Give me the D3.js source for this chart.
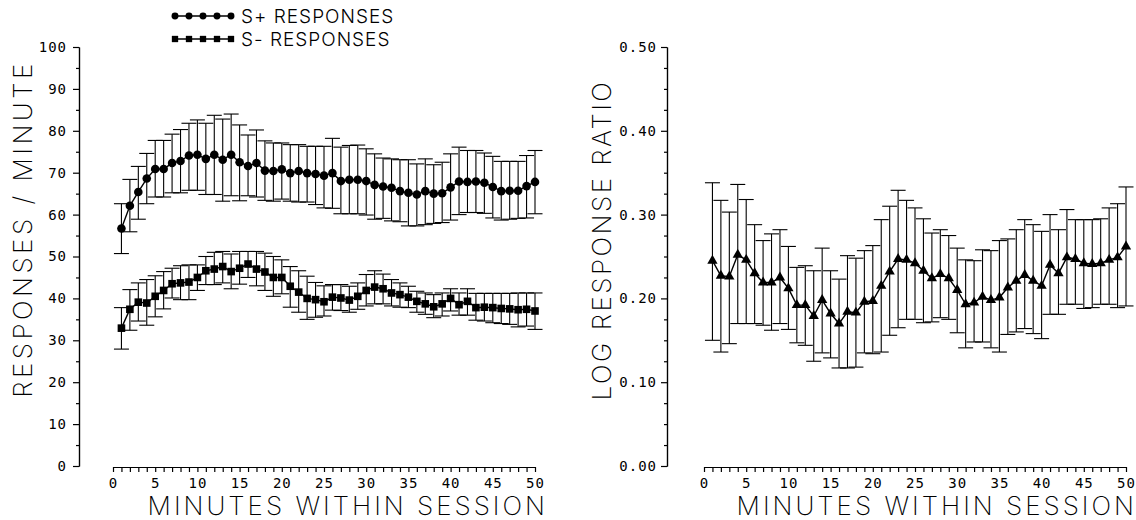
<!DOCTYPE html>
<html>
<head>
<meta charset="utf-8">
<script src="https://cdn.jsdelivr.net/npm/d3@7"></script>
<style>
body { margin: 0; background: #fff; }
svg { display: block; }
.tick text { font-family: "DejaVu Sans Mono", monospace; font-size: 14px; letter-spacing: 1px; }
.ttl { font-family: Inter, "DejaVu Sans", sans-serif; font-weight: 200; fill: #000; }
</style>
</head>
<body>
<svg id="chart" width="1136" height="520"></svg>
<script>
// minutes within session
var minutes = [1,2,3,4,5,6,7,8,9,10,11,12,13,14,15,16,17,18,19,20,21,22,23,24,25,
               26,27,28,29,30,31,32,33,34,35,36,37,38,39,40,41,42,43,44,45,46,47,48,49,50];

// S+ responses / minute (mean, top and bottom of error bar)
var sPlusMean = [56.7,62.1,65.4,68.6,70.9,70.9,72.3,72.8,74.1,74.3,73.3,74.3,73.1,74.3,72.5,71.6,72.3,70.5,70.4,70.8,
                 69.9,70.4,69.9,69.7,69.3,69.9,68.0,68.3,68.3,68.0,67.1,66.7,66.4,65.6,65.2,64.8,65.6,65.0,65.1,66.5,
                 67.9,67.8,67.9,67.6,66.6,65.6,65.7,65.7,66.8,67.8];
var sPlusHi = [62.6,68.4,71.5,74.6,77.7,77.7,79.2,80.3,81.8,82.6,81.8,83.7,82.8,84.0,81.4,79.0,80.2,77.6,77.1,77.1,
               76.7,76.7,76.3,76.3,76.3,78.2,76.1,76.5,76.6,75.7,74.5,73.5,73.3,73.1,73.1,72.1,73.3,71.9,72.5,74.5,
               76.1,75.3,75.3,74.7,73.9,72.7,72.7,72.7,74.1,75.3];
var sPlusLo = [50.7,55.9,58.9,62.6,64.2,64.2,65.2,65.2,65.8,65.8,64.8,64.8,63.2,64.5,63.3,64.5,64.2,63.4,63.2,63.7,
               63.2,63.0,63.0,62.4,61.6,61.5,60.2,60.2,60.2,59.9,58.9,59.1,58.5,58.3,57.3,57.3,57.6,57.9,58.1,58.7,
               60.0,60.5,60.5,60.3,59.2,58.7,58.9,59.1,59.2,60.2];

// S- responses / minute
var sMinusMean = [32.9,37.4,39.1,38.9,40.5,41.9,43.5,43.7,43.9,45.0,46.6,47.0,47.6,46.4,47.2,48.2,47.0,46.3,45.0,45.0,
                  42.9,41.5,40.0,39.7,39.2,40.3,40.1,39.6,40.5,41.9,42.7,42.3,41.3,40.9,40.3,39.3,38.7,38.0,38.7,40.0,
                  38.5,39.3,37.8,37.9,37.8,37.6,37.5,37.3,37.4,37.0];
var sMinusHi = [37.8,42.1,43.7,44.5,45.4,46.4,47.2,47.8,48.0,48.0,50.0,51.0,51.2,50.6,51.2,51.2,51.2,50.8,50.0,49.2,
                47.6,46.6,45.3,43.8,43.0,43.3,43.3,42.9,43.7,45.7,46.6,45.8,44.5,43.7,42.9,41.7,41.3,40.9,41.3,42.3,
                41.3,42.3,41.2,41.2,41.2,41.2,41.2,41.3,41.3,41.3];
var sMinusLo = [27.9,32.4,34.6,33.6,35.6,37.5,40.1,39.7,39.7,41.9,43.3,43.3,43.7,42.3,43.4,45.0,43.0,41.9,40.5,41.1,
                37.9,36.7,35.0,35.5,35.8,37.2,37.1,36.7,37.4,38.2,38.7,38.7,38.2,37.9,37.8,36.7,36.2,35.4,35.8,37.0,
                36.0,36.0,34.8,34.6,34.2,34.0,33.8,33.2,33.4,32.6];

// log response ratio
var lrrMean = [0.245,0.227,0.226,0.252,0.246,0.230,0.219,0.219,0.225,0.212,0.192,0.192,0.179,0.198,0.182,0.170,0.184,0.183,0.196,0.197,
               0.215,0.232,0.247,0.246,0.242,0.233,0.224,0.229,0.224,0.210,0.193,0.195,0.202,0.198,0.201,0.213,0.221,0.228,0.221,0.215,
               0.240,0.230,0.249,0.247,0.242,0.241,0.242,0.246,0.249,0.262];
var lrrHi = [0.338,0.317,0.303,0.336,0.318,0.288,0.269,0.277,0.282,0.262,0.237,0.239,0.233,0.260,0.233,0.223,0.251,0.248,0.257,0.263,
             0.294,0.310,0.329,0.317,0.308,0.295,0.278,0.282,0.275,0.260,0.246,0.245,0.258,0.257,0.269,0.271,0.282,0.294,0.288,0.280,
             0.300,0.282,0.306,0.294,0.294,0.294,0.295,0.308,0.313,0.333];
var lrrLo = [0.150,0.136,0.146,0.170,0.170,0.170,0.168,0.162,0.170,0.163,0.147,0.144,0.125,0.135,0.129,0.117,0.117,0.118,0.135,0.134,
             0.136,0.156,0.165,0.175,0.175,0.171,0.172,0.177,0.175,0.159,0.141,0.148,0.148,0.141,0.136,0.157,0.160,0.164,0.158,0.152,
             0.181,0.181,0.193,0.193,0.188,0.189,0.193,0.193,0.189,0.191];

// tick labels
var xTickLabels = [0,5,10,15,20,25,30,35,40,45,50];
var leftYTicks = [0,10,20,30,40,50,60,70,80,90,100];
var rightYTicks = [0,0.1,0.2,0.3,0.4,0.5];

var svg = d3.select("#chart");

// draws one panel's axes and returns its scales
function drawPanel(p) {
	var x = d3.scaleLinear().domain([0, 50]).range([p.x0, p.x1]);
	var y = d3.scaleLinear().domain(p.yDomain).range([466, 47]);

	// minor y ticks
	svg.append("g")
		.attr("transform", "translate(" + p.axisX + ",0)")
		.call(d3.axisLeft(y).tickValues(p.minorY).tickSize(3).tickSizeOuter(0).tickFormat(""));
	// major y ticks with labels
	svg.append("g")
		.attr("transform", "translate(" + p.axisX + ",0)")
		.call(d3.axisLeft(y).tickValues(p.yTicks).tickSize(6).tickSizeOuter(0).tickPadding(p.pad).tickFormat(p.fmt));

	// x axis: a tick every minute, label every 5
	svg.append("g")
		.attr("transform", "translate(0,467)")
		.call(d3.axisBottom(x).tickValues(d3.range(0, 51)).tickSize(5).tickSizeOuter(0).tickPadding(6)
			.tickFormat(function(d){ return xTickLabels.indexOf(d) >= 0 ? d : ""; }));

	svg.selectAll(".domain, .tick line").attr("stroke", "#000").attr("stroke-width", 1.2);

	svg.append("text").attr("class", "ttl")
		.attr("x", p.titleEnd).attr("y", 515)
		.attr("text-anchor", "end")
		.style("font-size", "26px")
		.style("letter-spacing", "3px")
		.text("MINUTES WITHIN SESSION");

	svg.append("text").attr("class", "ttl")
		.attr("transform", "translate(" + p.yTitleX + "," + p.yTitleY + ") rotate(-90)")
		.attr("text-anchor", "middle")
		.style("font-size", "26px")
		.style("letter-spacing", p.yTitleSpace)
		.text(p.yTitle);

	return { x: x, y: y };
}

// error bars + line + markers for one series
function drawSeries(sc, mean, hi, lo, sym, size) {
	var g = svg.append("g");
	var bars = g.selectAll(".eb").data(minutes).enter().append("g");
	bars.append("line")
		.attr("x1", function(d){ return sc.x(d); }).attr("x2", function(d){ return sc.x(d); })
		.attr("y1", function(d, i){ return sc.y(hi[i]); }).attr("y2", function(d, i){ return sc.y(lo[i]); });
	bars.append("line")
		.attr("x1", function(d){ return sc.x(d) - 7.5; }).attr("x2", function(d){ return sc.x(d) + 7.5; })
		.attr("y1", function(d, i){ return sc.y(hi[i]); }).attr("y2", function(d, i){ return sc.y(hi[i]); });
	bars.append("line")
		.attr("x1", function(d){ return sc.x(d) - 7.5; }).attr("x2", function(d){ return sc.x(d) + 7.5; })
		.attr("y1", function(d, i){ return sc.y(lo[i]); }).attr("y2", function(d, i){ return sc.y(lo[i]); });
	bars.selectAll("line").attr("stroke", "#000").attr("stroke-width", 1.1);

	var line = d3.line()
		.x(function(d){ return sc.x(d); })
		.y(function(d, i){ return sc.y(mean[i]); });
	g.append("path").datum(minutes)
		.attr("d", line).attr("fill", "none").attr("stroke", "#000").attr("stroke-width", 1.4);

	g.selectAll(".pt").data(minutes).enter().append("path")
		.attr("transform", function(d, i){ return "translate(" + sc.x(d) + "," + sc.y(mean[i]) + ")"; })
		.attr("d", d3.symbol().type(sym).size(size))
		.attr("fill", "#000");
}

var left = drawPanel({
	x0: 113, x1: 535, axisX: 79, yDomain: [0, 100],
	yTicks: leftYTicks, minorY: d3.range(5, 100, 10), pad: 6,
	fmt: function(d){ return d; },
	titleEnd: 548, yTitleX: 32, yTitleY: 229, yTitle: "RESPONSES / MINUTE", yTitleSpace: "3.5px"
});
var right = drawPanel({
	x0: 704, x1: 1126, axisX: 667, yDomain: [0, 0.5],
	yTicks: rightYTicks, minorY: [0.025,0.05,0.075,0.125,0.15,0.175,0.225,0.25,0.275,0.325,0.35,0.375,0.425,0.45,0.475], pad: 4,
	fmt: d3.format(".2f"),
	titleEnd: 1137, yTitleX: 611, yTitleY: 240, yTitle: "LOG RESPONSE RATIO", yTitleSpace: "2.5px"
});

drawSeries(left, sPlusMean, sPlusHi, sPlusLo, d3.symbolCircle, 58);
drawSeries(left, sMinusMean, sMinusHi, sMinusLo, d3.symbolSquare, 58);
drawSeries(right, lrrMean, lrrHi, lrrLo, d3.symbolTriangle, 46);

// legend
var legend = [
	{ label: "S+  RESPONSES", sym: d3.symbolCircle, size: 38, y: 16 },
	{ label: "S-  RESPONSES", sym: d3.symbolSquare, size: 40, y: 39 }
];
var lg = svg.selectAll(".lg").data(legend).enter().append("g");
lg.append("line")
	.attr("x1", 175).attr("x2", 231)
	.attr("y1", function(d){ return d.y; }).attr("y2", function(d){ return d.y; })
	.attr("stroke", "#000").attr("stroke-width", 1.4);
lg.each(function(d){
	d3.select(this).selectAll("path").data([175, 189, 203, 217, 231]).enter().append("path")
		.attr("transform", function(px){ return "translate(" + px + "," + d.y + ")"; })
		.attr("d", d3.symbol().type(d.sym).size(d.size))
		.attr("fill", "#000");
});
lg.append("text").attr("class", "ttl")
	.attr("x", 241).attr("y", function(d){ return d.y + 7; })
	.style("font-size", "19px")
	.style("font-weight", 300)
	.style("letter-spacing", "1px")
	.text(function(d){ return d.label; });
</script>
</body>
</html>
